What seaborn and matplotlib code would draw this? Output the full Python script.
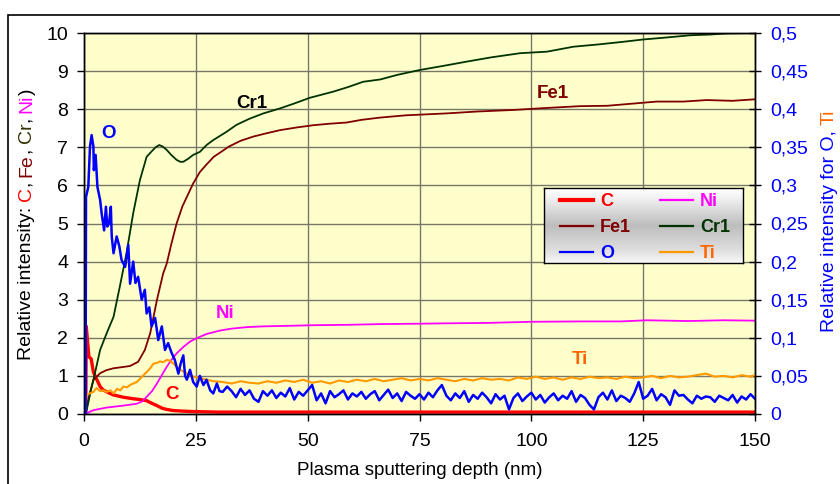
import numpy as np
import seaborn as sns
import matplotlib.pyplot as plt
from matplotlib.patches import Rectangle

plt.rcParams['font.family'] = ['Liberation Sans', 'DejaVu Sans']

# depth (nm) and intensities
c_depth = [0.4, 0.5, 0.8, 1.1, 1.6, 2.1, 2.8, 3.6, 4.3, 5.8, 6.6, 8.8, 11.0, 12.5, 14.0, 14.8,
           16.3, 17.5, 18.5, 20.0, 23.0, 25.9, 30, 50, 75, 100, 125, 150]
c_val = [0.0, 2.3, 1.9, 1.5, 1.45, 1.1, 0.92, 0.72, 0.63, 0.54, 0.50, 0.44, 0.40, 0.38, 0.35, 0.30,
         0.22, 0.15, 0.12, 0.09, 0.07, 0.06, 0.05, 0.05, 0.05, 0.05, 0.05, 0.05]

fe_depth = [0.3, 0.6, 1.2, 2.1, 3.6, 5.0, 6.6, 8.5, 10.3, 12.1, 13.6, 14.8, 16.3, 17.7, 18.5, 19.5,
            20.7, 22.0, 23.0, 24.4, 25.9, 27.4, 29, 30.4, 32.4, 35, 37.8, 40.5, 43.8, 47.5, 51.3,
            55, 58.7, 62, 66.2, 72, 81.1, 88, 96.0, 103, 110.9, 117, 122, 128, 134, 139.2, 145, 150]
fe_val = [0.0, 0.19, 0.5, 0.89, 1.07, 1.15, 1.2, 1.23, 1.26, 1.37, 1.68, 2.12, 2.99, 3.69, 3.95, 4.45,
          5.0, 5.45, 5.7, 6.05, 6.35, 6.55, 6.75, 6.86, 7.02, 7.17, 7.28, 7.36, 7.45, 7.52, 7.58,
          7.62, 7.65, 7.72, 7.78, 7.84, 7.89, 7.94, 7.98, 8.03, 8.08, 8.09, 8.14, 8.2, 8.2, 8.24, 8.22, 8.26]

cr_depth = [0.3, 0.6, 1.5, 2.5, 3.6, 5.0, 6.6, 8.0, 9.5, 11.0, 12.5, 14.0, 15.1, 16.0, 16.8, 17.6,
            18.5, 19.5, 20.7, 21.5, 22.2, 23.3, 24.4, 25.9, 27.4, 28.9, 30.4, 31.9, 34.1, 37, 40.1,
            43.8, 47, 50.5, 55.7, 59, 62.4, 66.2, 70, 75.1, 80, 85.6, 91, 97.5, 103.5, 109.4, 115,
            120.6, 125, 130, 135.5, 140, 143.7, 150]
cr_val = [0.0, 0.1, 0.6, 1.1, 1.68, 2.1, 2.55, 3.34, 4.22, 5.27, 6.14, 6.75, 6.89, 7.0, 7.06, 7.02,
          6.93, 6.8, 6.67, 6.62, 6.62, 6.70, 6.80, 6.88, 7.06, 7.19, 7.30, 7.41, 7.59, 7.75, 7.89,
          8.02, 8.15, 8.30, 8.46, 8.58, 8.72, 8.78, 8.90, 9.03, 9.13, 9.25, 9.36, 9.47, 9.51, 9.64, 9.70,
          9.77, 9.83, 9.88, 9.94, 9.96, 9.99, 10.0]

ni_depth = [0.3, 0.6, 2.1, 5.1, 8.8, 11.8, 13.0, 14.0, 15.2, 16.3, 17.4, 18.5, 19.6, 20.7, 22.2,
            23.7, 25.2, 27.4, 30.4, 33, 36.4, 40, 43.8, 51.3, 58.7, 66.2, 75, 81.1, 90, 99.7, 110.9,
            120, 125.8, 135, 143, 150]
ni_val = [0.0, 0.02, 0.10, 0.17, 0.22, 0.27, 0.33, 0.45, 0.60, 0.80, 1.02, 1.24, 1.43, 1.59, 1.76,
          1.9, 1.99, 2.1, 2.19, 2.24, 2.28, 2.30, 2.31, 2.33, 2.34, 2.36, 2.37, 2.38, 2.39, 2.42, 2.43,
          2.43, 2.46, 2.44, 2.46, 2.45]

# O and Ti on the right axis
o_depth = [0.35, 0.45, 0.96, 1.34, 1.7, 2.1, 2.2, 2.6, 3.0, 3.6, 3.95, 4.5, 4.9, 5.2, 5.6, 6.0, 6.2,
           6.6, 7.3, 7.9, 8.4, 9.2, 9.9, 10.3, 11.0, 11.5, 12.1, 12.9, 13.6, 14.0, 14.6, 15.1, 15.9,
           16.6, 17.4, 18.1, 18.8, 19.6, 20.3, 21.1, 21.6, 22.2, 22.6, 23.0, 23.7, 24.4, 25.2, 25.9,
           26.7, 27.4, 28.2, 28.9, 29.7, 30.3] + list(range(31, 151))
o_val = [0.0, 0.285, 0.298, 0.351, 0.366, 0.351, 0.320, 0.340, 0.298, 0.281, 0.263, 0.241, 0.272,
         0.246, 0.250, 0.272, 0.233, 0.211, 0.233, 0.220, 0.202, 0.193, 0.222, 0.171, 0.200, 0.172,
         0.180, 0.150, 0.163, 0.132, 0.140, 0.115, 0.126, 0.097, 0.115, 0.084, 0.093, 0.080, 0.071,
         0.053, 0.066, 0.077, 0.050, 0.045, 0.058, 0.042, 0.036, 0.050, 0.038, 0.045, 0.031, 0.027,
         0.040, 0.030,
         0.029, 0.036, 0.030, 0.022, 0.033, 0.025, 0.031, 0.020, 0.016, 0.030,
         0.024, 0.031, 0.021, 0.028, 0.023, 0.034, 0.019, 0.029, 0.024, 0.031,
         0.038, 0.018, 0.027, 0.014, 0.030, 0.022, 0.026, 0.031, 0.019, 0.027,
         0.023, 0.029, 0.020, 0.026, 0.030, 0.018, 0.025, 0.032, 0.021, 0.027,
         0.017, 0.029, 0.024, 0.020, 0.026, 0.019, 0.028, 0.022, 0.031, 0.038,
         0.024, 0.018, 0.027, 0.021, 0.030, 0.016, 0.025, 0.020, 0.028, 0.022,
         0.014, 0.026, 0.019, 0.024, 0.006, 0.021, 0.027, 0.017, 0.023, 0.028,
         0.019, 0.025, 0.015, 0.022, 0.027, 0.018, 0.024, 0.020, 0.030, 0.016,
         0.025, 0.021, 0.012, 0.006, 0.022, 0.028, 0.019, 0.031, 0.017, 0.024,
         0.021, 0.016, 0.027, 0.042, 0.020, 0.024, 0.033, 0.018, 0.026, 0.022,
         0.012, 0.031, 0.024, 0.025, 0.019, 0.014, 0.024, 0.020, 0.023, 0.022,
         0.016, 0.024, 0.021, 0.018, 0.025, 0.015, 0.023, 0.019, 0.026, 0.020]

ti_depth = [0.3, 0.5, 1.3, 2.1, 2.8, 3.6, 4.4, 5.1, 5.9, 6.6, 7.4, 8.1, 8.8, 9.6, 10.3, 11.0, 11.8,
            12.5, 13.3, 14.0, 14.8, 15.5, 16.3, 17.0, 17.7, 18.5, 19.2, 20.0, 20.7, 21.5, 22.2, 23.0,
            23.7, 24.4, 25.9, 27.4, 29, 31, 33, 35, 37, 39, 41, 43, 45, 47, 49, 51, 53, 55, 57, 59,
            61, 63, 65, 67, 69, 71, 73, 75, 77, 79, 81, 83, 85, 87, 89, 91, 93, 95, 97, 99, 101, 103,
            105, 107, 109, 111, 113, 115, 117, 119, 121, 123, 125, 127, 129, 131, 133, 135, 137, 139,
            141, 143, 145, 147, 149, 150]
ti_val = [0.0, 0.025, 0.027, 0.029, 0.034, 0.030, 0.031, 0.029, 0.031, 0.027, 0.033, 0.031, 0.036,
          0.035, 0.038, 0.040, 0.042, 0.046, 0.051, 0.055, 0.060, 0.066, 0.067, 0.069, 0.068, 0.071,
          0.070, 0.066, 0.062, 0.058, 0.056, 0.053, 0.051, 0.049, 0.047, 0.045, 0.043, 0.042, 0.040,
          0.043, 0.041, 0.040, 0.043, 0.041, 0.044, 0.042, 0.045, 0.041, 0.043, 0.040, 0.044, 0.042,
          0.045, 0.043, 0.046, 0.043, 0.045, 0.047, 0.044, 0.046, 0.044, 0.047, 0.045, 0.043, 0.046,
          0.044, 0.047, 0.045, 0.046, 0.044, 0.048, 0.046, 0.049, 0.046, 0.048, 0.045, 0.048, 0.046,
          0.049, 0.047, 0.048, 0.046, 0.049, 0.047, 0.048, 0.050, 0.047, 0.050, 0.048, 0.049, 0.051,
          0.053, 0.049, 0.050, 0.048, 0.051, 0.049, 0.051]

x_ticks = [0, 25, 50, 75, 100, 125, 150]
left_ticks = [0, 1, 2, 3, 4, 5, 6, 7, 8, 9, 10]
right_ticks = [0, 0.05, 0.1, 0.15, 0.2, 0.25, 0.3, 0.35, 0.4, 0.45, 0.5]
right_tick_labels = ['0', '0,05', '0,1', '0,15', '0,2', '0,25', '0,3', '0,35', '0,4', '0,45', '0,5']

RED, FE, CR, NI, BLUE, TI = '#FF0000', '#800000', '#003300', '#FF00FF', '#0000FF', '#FF9900'

W, H = 840, 484
fig = plt.figure(figsize=(W / 100, H / 100), dpi=100)
ax = fig.add_axes([84 / W, (H - 414) / H, 671 / W, 381 / H])
ax2 = ax.twinx()
ax.set_facecolor('#FFFFCC')

handles = {}
for name, xs, ys, col, lw, a in [('C', c_depth, c_val, RED, 2.4, ax),
                                 ('Fe1', fe_depth, fe_val, FE, 1.3, ax),
                                 ('Cr1', cr_depth, cr_val, CR, 1.3, ax),
                                 ('Ni', ni_depth, ni_val, NI, 1.3, ax),
                                 ('Ti', ti_depth, ti_val, TI, 1.5, ax2),
                                 ('O', o_depth, o_val, BLUE, 1.8, ax2)]:
    sns.lineplot(x=xs, y=ys, ax=a, color=col, linewidth=lw, legend=False)
    handles[name] = a.lines[-1]

ax.set_xlim(0, 150)
ax.set_ylim(0, 10)
ax2.set_ylim(0, 0.5)
ax.set_xticks(x_ticks)
ax.set_yticks(left_ticks)
ax2.set_yticks(right_ticks)
ax2.set_yticklabels(right_tick_labels)
ax.grid(True, color='#77776a', linewidth=1)
ax.set_axisbelow(True)
ax.tick_params(axis='y', direction='out', length=5, width=1, labelsize=14, pad=6.5)
ax.tick_params(axis='x', direction='out', length=5, width=1, labelsize=14, pad=9)
ax2.tick_params(axis='y', direction='inout', length=8.6, width=1, labelsize=14, pad=6.5,
                labelcolor=BLUE)
for a in (ax, ax2):
    for s in a.spines.values():
        s.set_color('black')
        s.set_linewidth(1)
ax.set_xlabel('Plasma sputtering depth (nm)', fontsize=13.5)
ax.xaxis.set_label_coords(0.5, -0.125)
ax.set_ylabel('')
ax2.set_ylabel('')

# curve labels
ax.text(5.4, 7.37, 'O', color=BLUE, fontsize=13.5, fontweight='bold', ha='center', va='center')
ax.text(37.5, 8.15, 'Cr1', color='black', fontsize=13.5, fontweight='bold', ha='center', va='center')
ax.text(104.9, 8.42, 'Fe1', color=FE, fontsize=13.5, fontweight='bold', ha='center', va='center')
ax.text(31.5, 2.64, 'Ni', color=NI, fontsize=13.5, fontweight='bold', ha='center', va='center')
ax.text(110.9, 1.42, 'Ti', color='#FF6600', fontsize=13.5, fontweight='bold', ha='center', va='center')
ax.text(19.6, 0.5, 'C', color=RED, fontsize=13.5, fontweight='bold', ha='center', va='center')

# multi-coloured rotated axis titles
fig.canvas.draw()
renderer = fig.canvas.get_renderer()


def width_of(s, size):
    t = fig.text(0, 0, s, fontsize=size)
    w = t.get_window_extent(renderer).width
    t.remove()
    return w


def coloured_label(pieces, x_px, yc_px, size):
    full = ''.join(p for p, _ in pieces)
    total = width_of(full + 'X', size) - width_of('X', size)
    y0 = (H - yc_px) - total / 2
    prefix = ''
    for p, col in pieces:
        off = width_of(prefix + 'X', size) - width_of('X', size) if prefix else 0
        fig.text(x_px / W, (y0 + off) / H, p, color=col, fontsize=size, rotation=90,
                 ha='center', va='bottom')
        prefix += p


coloured_label([('Relative intensity: ', 'black'), ('C', RED), (', ', 'black'), ('Fe', FE),
                (', ', 'black'), ('Cr', '#333300'), (', ', 'black'), ('Ni', NI), (')', 'black')],
               27, 224, 14)
coloured_label([('Relative intensity for O, ', BLUE), ('Ti', '#FF6600')], 829, 221, 14)

# legend with grey gradient box
gax = fig.add_axes([544 / W, (H - 263) / H, 199 / W, 75 / H], zorder=3)
yy = np.linspace(0, 1, 100)
shade = np.interp(yy, [0, 0.12, 0.5, 0.85, 1], [1.0, 0.95, 0.74, 0.88, 0.97])
gax.imshow(shade[:, None], cmap='gray', vmin=0, vmax=1, aspect='auto',
           extent=[0, 1, 1, 0])
gax.set_xticks([])
gax.set_yticks([])
for s in gax.spines.values():
    s.set_color('black')
    s.set_linewidth(1)

order = ['C', 'Fe1', 'O', 'Ni', 'Cr1', 'Ti']
leg = fig.legend([handles[k] for k in order], order, ncol=2, loc='upper left',
                 bbox_to_anchor=(560 / W, (H - 193) / H), frameon=False, borderpad=0,
                 borderaxespad=0, handlelength=1.83, handletextpad=0.39,
                 columnspacing=1.6, labelspacing=0.5,
                 prop={'weight': 'bold', 'size': 13})
leg.set_zorder(5)
for txt, k in zip(leg.get_texts(), order):
    txt.set_color({'C': RED, 'Fe1': FE, 'O': BLUE, 'Ni': NI, 'Cr1': CR, 'Ti': '#FF6600'}[k])
for ln, k in zip(leg.get_lines(), order):
    ln.set_linewidth(3 if k == 'C' else 1.6)

fig.patches.append(Rectangle((8 / W, -0.1), 1.2, (H - 15) / H + 0.1, transform=fig.transFigure,
                             fill=False, edgecolor='black', linewidth=1.2))

fig.savefig('out.png', dpi=100)
